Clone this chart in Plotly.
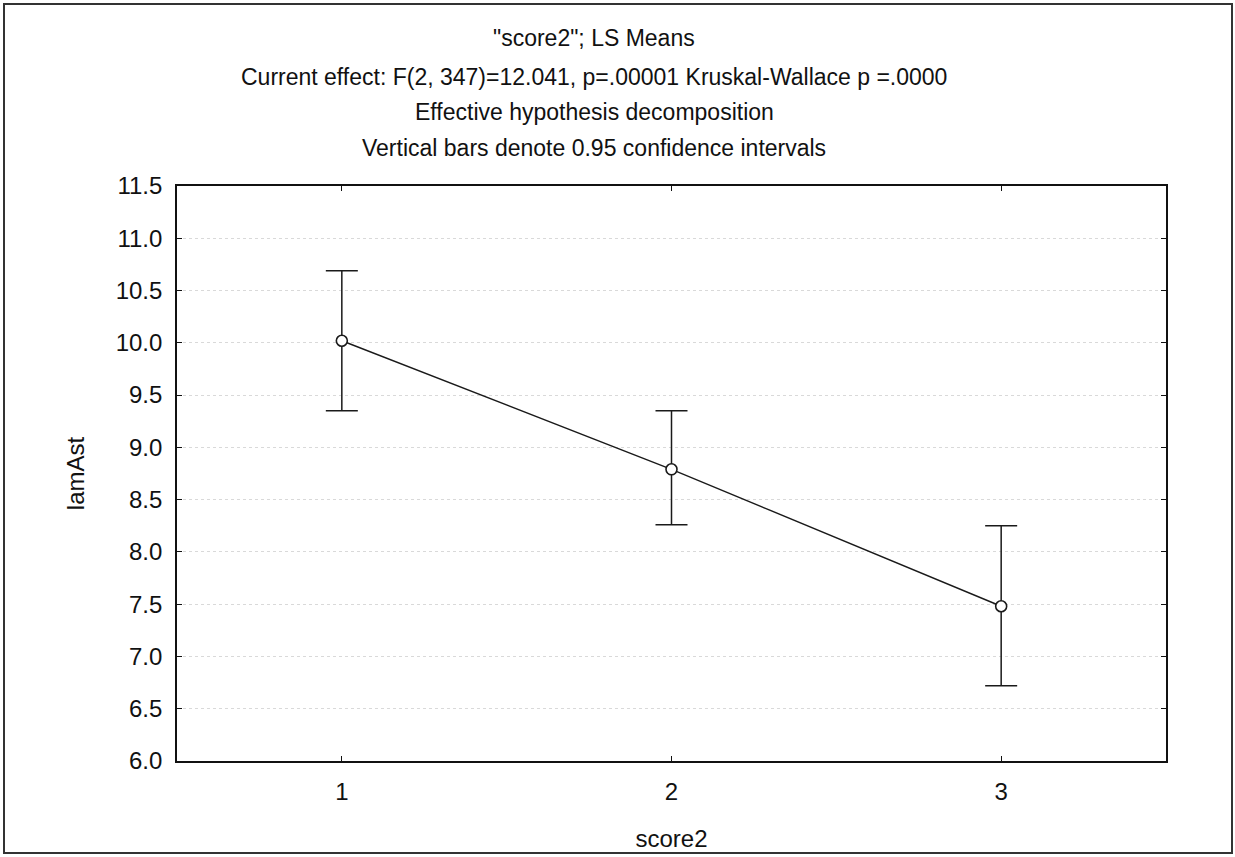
import plotly.graph_objects as go

# ---- data ----
groups = [1, 2, 3]
group_labels = ["1", "2", "3"]
means = [10.02, 8.79, 7.48]
ci_lower = [9.35, 8.26, 6.72]
ci_upper = [10.69, 9.35, 8.25]
y_ticks = [6.0, 6.5, 7.0, 7.5, 8.0, 8.5, 9.0, 9.5, 10.0, 10.5, 11.0, 11.5]
title_lines = [
    '"score2"; LS Means',
    'Current effect: F(2, 347)=12.041, p=.00001 Kruskal-Wallace p =.0000',
    'Effective hypothesis decomposition',
    'Vertical bars denote 0.95 confidence intervals',
]
x_title = "score2"
y_title = "lamAst"

W, H = 1235, 857
L, R, T, B = 177, 69, 186, 96
pw, ph = W - L - R, H - T - B

def px_x(p):
    return (p - L) / pw

def px_y(p):
    return (H - B - p) / ph

err_plus = [u - m for u, m in zip(ci_upper, means)]
err_minus = [m - l for m, l in zip(means, ci_lower)]

fig = go.Figure()
fig.add_trace(go.Scatter(
    x=groups, y=means, mode="lines+markers",
    line=dict(color="#1a1a1a", width=1.4),
    marker=dict(symbol="circle", size=11, color="white",
                line=dict(color="#1a1a1a", width=1.6)),
    error_y=dict(type="data", symmetric=False, array=err_plus,
                 arrayminus=err_minus, color="#1a1a1a", thickness=1.5, width=16),
    showlegend=False,
))

tick_font = dict(family="Liberation Sans, Arial, sans-serif", size=24, color="#111")
fig.update_xaxes(
    range=[0.5, 3.5], tickvals=groups, ticktext=group_labels,
    showline=True, linecolor="#111", linewidth=1.6, mirror="ticks",
    ticks="inside", ticklen=5, tickcolor="#111", tickwidth=1.4,
    showgrid=False, zeroline=False, tickfont=tick_font,
    ticklabelstandoff=8, automargin=False,
    title=dict(text=x_title, font=tick_font, standoff=27),
)
fig.update_yaxes(
    range=[6.0, 11.5], tickvals=y_ticks, ticktext=[f"{v:.1f}" for v in y_ticks],
    showline=True, linecolor="#111", linewidth=1.6, mirror="ticks",
    ticks="inside", ticklen=5, tickcolor="#111", tickwidth=1.4,
    showgrid=True, gridcolor="#d9d9d9", griddash="dot", gridwidth=1,
    zeroline=False, tickfont=tick_font,
    ticklabelstandoff=8, automargin=False,
    title=dict(text=y_title, font=tick_font, standoff=24),
)

title_y_px = [38, 77, 112, 148]
title_font = dict(family="Liberation Sans, Arial, sans-serif", size=23, color="#111")
for txt, yp in zip(title_lines, title_y_px):
    fig.add_annotation(text=txt, xref="paper", yref="paper",
                       x=px_x(594), y=px_y(yp), xanchor="center", yanchor="middle",
                       showarrow=False, font=title_font)

# outer frame
fig.add_shape(type="rect", xref="paper", yref="paper",
              x0=px_x(4), x1=px_x(1232), y0=px_y(853), y1=px_y(4),
              line=dict(color="#333", width=2), fillcolor="rgba(0,0,0,0)")

fig.update_layout(
    width=W, height=H,
    margin=dict(l=L, r=R, t=T, b=B),
    paper_bgcolor="white", plot_bgcolor="white",
)

fig.write_html("out.html")
